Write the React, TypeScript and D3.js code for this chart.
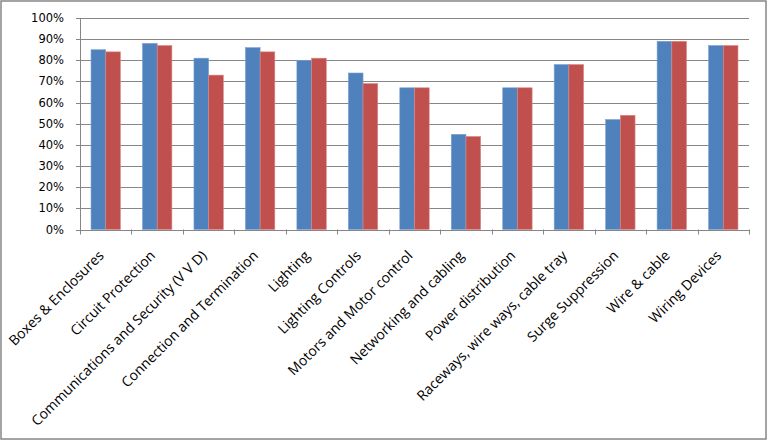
import React from "react";
import * as d3 from "d3";

const categories = [
  "Boxes & Enclosures",
  "Circuit Protection",
  "Communications and Security (V V D)",
  "Connection and Termination",
  "Lighting",
  "Lighting Controls",
  "Motors and Motor control",
  "Networking and cabling",
  "Power distribution",
  "Raceways, wire ways, cable tray",
  "Surge Suppression",
  "Wire & cable",
  "Wiring Devices",
];
const seriesA = [0.85, 0.88, 0.81, 0.86, 0.80, 0.74, 0.67, 0.45, 0.67, 0.78, 0.52, 0.89, 0.87];
const seriesB = [0.84, 0.87, 0.73, 0.84, 0.81, 0.69, 0.67, 0.44, 0.67, 0.78, 0.54, 0.89, 0.87];
const yTicks = [0, 0.1, 0.2, 0.3, 0.4, 0.5, 0.6, 0.7, 0.8, 0.9, 1.0];

const W = 768;
const H = 441;
const left = 80;
const right = 749;
const top = 18;
const bottom = 229.5;

export default function App() {
  const x = d3.scaleBand<string>().domain(categories).range([left, right]).paddingInner(0).paddingOuter(0);
  const y = d3.scaleLinear().domain([0, 1]).range([bottom, top]);
  const bw = x.bandwidth() / 3.5;
  const inner = d3.scaleBand<string>().domain(["a", "b"]).range([0, bw * 2]);
  const fmt = d3.format(".0%");
  const gridColor = "#868686";

  return (
    <svg width={W} height={H} style={{ position: "absolute", left: 0, top: 0, background: "#fff" }}>
      <rect x={1} y={1} width={W - 3} height={H - 3} fill="#fff" stroke="#868686" strokeWidth={1.5} />
      {yTicks.map((t) => (
        <g key={t}>
          <line x1={left - 4} x2={right} y1={Math.round(y(t)) + 0.5} y2={Math.round(y(t)) + 0.5} stroke={gridColor} strokeWidth={1} />
          <text
            x={64}
            y={y(t) + 4}
            textAnchor="end"
            fontFamily="DejaVu Sans, Verdana, sans-serif"
            fontSize={11.5}
            fill="#000"
          >
            {fmt(t)}
          </text>
        </g>
      ))}
      <line x1={left + 0.5} x2={left + 0.5} y1={top} y2={bottom + 5} stroke={gridColor} strokeWidth={1} />
      {categories.map((c, i) => {
        const x0 = x(c)!;
        const gx = x0 + (x.bandwidth() - bw * 2) / 2;
        return (
          <g key={c}>
            <rect x={gx + inner("a")!} y={y(seriesA[i])} width={inner.bandwidth()} height={bottom - y(seriesA[i])} fill="#4F81BD" stroke="#7EA3D1" strokeWidth={0.6} />
            <rect x={gx + inner("b")!} y={y(seriesB[i])} width={inner.bandwidth()} height={bottom - y(seriesB[i])} fill="#C0504D" stroke="#D98A88" strokeWidth={0.6} />
            <line x1={Math.round(x0 + x.bandwidth()) + 0.5} x2={Math.round(x0 + x.bandwidth()) + 0.5} y1={bottom} y2={bottom + 5} stroke={gridColor} strokeWidth={1} />
          </g>
        );
      })}
      <line x1={left} x2={right} y1={Math.round(bottom) + 0.5} y2={Math.round(bottom) + 0.5} stroke={gridColor} strokeWidth={1} />
      {categories.map((c) => {
        const cx = x(c)! + x.bandwidth() / 2 - 1;
        const cy = bottom + 27;
        return (
          <text
            key={c}
            transform={`translate(${cx},${cy}) rotate(-45)`}
            textAnchor="end"
            fontFamily="Open Sans, sans-serif"
            fontSize={14}
            fill="#000"
          >
            {c}
          </text>
        );
      })}
    </svg>
  );
}
